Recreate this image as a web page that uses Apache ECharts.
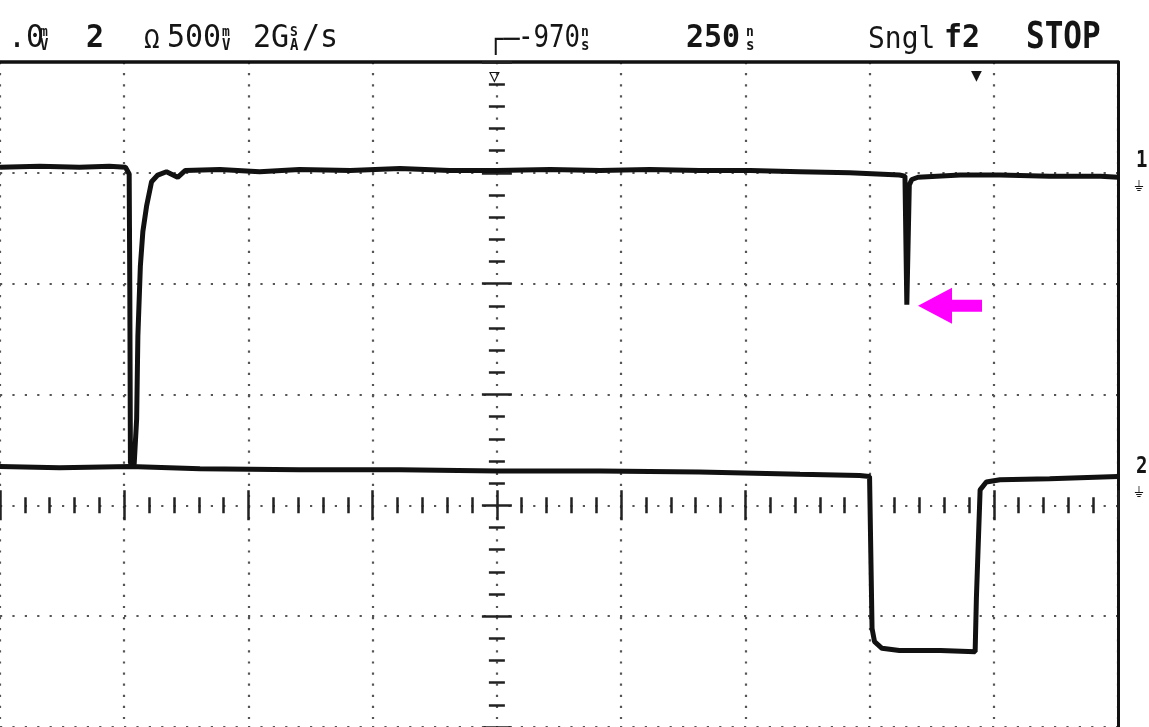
<!DOCTYPE html>
<html><head><meta charset="utf-8">
<script src="https://cdn.jsdelivr.net/npm/echarts@6/dist/echarts.min.js"></script>
<style>html,body{margin:0;padding:0;background:#fff}#c{width:1149px;height:727px}</style>
</head><body><div id="c"></div>
<script>
// Horizontal position in graticule divisions (0 = screen centre), vertical in divisions (0 = centre line)
const ch1X = [-4.00,-3.68,-3.36,-3.12,-2.99,-2.96,-2.955,-2.95,-2.92,-2.90,-2.89,-2.87,-2.85,-2.82,-2.78,-2.73,-2.66,-2.57,-2.51,-2.23,-1.91,-1.59,-1.18,-0.78,-0.38,0.00,0.43,0.83,1.23,1.63,2.04,2.44,2.84,3.24,3.285,3.30,3.32,3.34,3.39,3.73,4.05,4.45,4.86,5.00];
const ch1Y = [3.05,3.06,3.05,3.06,3.05,2.99,1.95,0.38,0.37,0.78,1.53,2.16,2.47,2.70,2.92,2.98,3.01,2.96,3.02,3.03,3.01,3.03,3.02,3.04,3.02,3.02,3.03,3.02,3.03,3.02,3.02,3.01,3.00,2.98,2.97,1.81,2.89,2.94,2.96,2.98,2.98,2.97,2.97,2.96];
const ch2X = [-4.00,-3.52,-2.95,-2.39,-1.59,-0.78,0.00,0.83,1.63,2.44,2.92,3.00,3.02,3.04,3.10,3.24,3.57,3.85,3.86,3.89,3.94,4.05,4.45,5.00];
const ch2Y = [0.35,0.34,0.35,0.33,0.32,0.32,0.31,0.31,0.30,0.28,0.27,0.26,-1.11,-1.23,-1.29,-1.31,-1.31,-1.32,-0.84,0.14,0.21,0.23,0.24,0.26];
const arrowTarget = [3.39, 1.80];
const xRange = [-4, 5];
const yRange = [-2, 4];

const chart = echarts.init(document.getElementById('c'), null, {renderer:'canvas'});
const tickStyle = {color:'#222', width:2.5};
function tickAxis(pos, idx, dim) {
  const r = dim === 'x' ? xRange : yRange;
  return {
    type:'value', min:r[0], max:r[1], interval:1, position:pos,
    axisLine:{show:false, onZero:true, onZeroAxisIndex:idx},
    axisTick:{show:true, inside:false, length:15, lineStyle:tickStyle},
    minorTick:{show:true, splitNumber:5, length:8, lineStyle:tickStyle},
    axisLabel:{show:false},
    splitLine:{show: idx === 0, lineStyle:{color:'#555', width:2.2, type: dim === 'x' ? [2.2, 8.9] : [2.2, 10.2]}}
  };
}
function borderAxis(pos, dim, w) {
  const r = dim === 'x' ? xRange : yRange;
  return {type:'value', min:r[0], max:r[1], interval:1, position:pos,
    axisLine:{show:true, onZero:false, lineStyle:{color:'#111', width:w}},
    axisTick:{show:false}, axisLabel:{show:false}, splitLine:{show:false}};
}
const mono = '"DejaVu Sans Mono", "Liberation Mono", monospace';
function txt(x, y, text, size, weight, sy, sx) {
  return {type:'text', x:x, y:y, scaleY: sy || 1.05, scaleX: sx || 1, z:100,
    style:{text:text, font: (weight||'normal') + ' ' + size + 'px ' + mono, fill:'#151515', verticalAlign:'bottom'}};
}
function stack(x, top, bot) {
  return [txt(x, 39, top, 13, 'bold', 1.1), txt(x, 54, bot, 14, 'bold', 1.1)];
}
const header = [].concat(
  txt(8, 55, '.0', 30), stack(40, 'm', 'V'),
  txt(86, 55, '2', 30, 'bold'),
  txt(144, 55, 'Ω', 26),
  txt(167, 55, '500', 30), stack(222, 'm', 'V'),
  txt(253, 55, '2G', 30), stack(290, 'S', 'A'), txt(302, 55, '/s', 30),
  txt(488, 55, '┌─', 26),
  txt(518, 55, '-970', 30, 'normal', 1.05, 0.86), stack(581, 'n', 's'),
  txt(686, 55, '250', 30, 'bold'), stack(746, 'n', 's'),
  txt(868, 55, 'Sngl', 28),
  txt(944, 55, 'f2', 30, 'bold'),
  txt(1026, 57, 'STOP', 31, 'bold', 1.2),
  txt(489, 86, '▽', 18, 'normal', 1),
  txt(971, 85, '▼', 18, 'normal', 1),
  txt(1136, 172, '1', 19, 'bold', 1.2),
  txt(1134, 194, '⏚', 14, 'normal', 1),
  txt(1136, 478, '2', 19, 'bold', 1.2),
  txt(1134, 500, '⏚', 14, 'normal', 1)
);

const option = {
  animation:false,
  backgroundColor:'#ffffff',
  grid:{left:0, top:62, width:1118, height:667, show:false},
  xAxis:[tickAxis('bottom',0,'x'), tickAxis('top',1,'x'), borderAxis('top','x',3.5)],
  yAxis:[tickAxis('left',0,'y'), tickAxis('right',1,'y'), borderAxis('right','y',3)],
  graphic: header,
  series:[
    {type:'line', name:'CH1', xAxisIndex:0, yAxisIndex:0, showSymbol:false, symbol:'none',
     data: ch1X.map((x,i)=>[x, ch1Y[i]]), lineStyle:{color:'#111', width:5}, z:5,
     markPoint:{symbolKeepAspect:false, data:[{coord:arrowTarget, symbol:'path://M0,18 L34,0 L34,12 L64,12 L64,24 L34,24 L34,36 Z',
       symbolSize:[64,36], symbolOffset:[32,0], itemStyle:{color:'#ff00ff'}, label:{show:false}}]}},
    {type:'line', name:'CH2', xAxisIndex:0, yAxisIndex:0, showSymbol:false, symbol:'none',
     data: ch2X.map((x,i)=>[x, ch2Y[i]]), lineStyle:{color:'#111', width:5}, z:5}
  ]
};
chart.setOption(option);
</script></body></html>
